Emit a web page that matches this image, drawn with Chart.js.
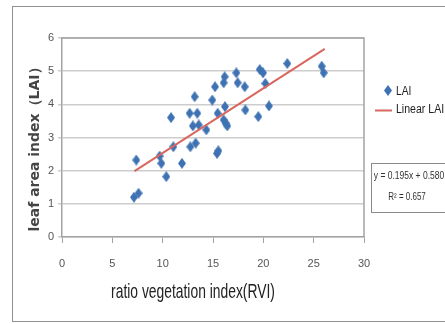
<!DOCTYPE html>
<html lang="en">
<head>
    <meta charset="UTF-8">
    <title>LAI vs RVI</title>
    <script src="https://cdn.jsdelivr.net/npm/chart.js"></script>
    <style>
        body { margin: 0; background: #fff; }
        canvas { display: block; }
    </style>
</head>
<body>
    <canvas id="lai-chart" width="445" height="324"></canvas>

    <script>
        // Field samples: ratio vegetation index (x) and measured leaf area index (y)
        const rvi = [7.15, 7.6, 7.38, 9.7, 9.87, 10.36, 10.83, 11.06, 11.92, 12.68,
                     12.75, 13.0, 13.18, 13.28, 13.44, 13.58, 14.34, 14.93, 15.2, 15.46,
                     15.4, 15.53, 16.06, 16.16, 16.19, 16.06, 16.26, 16.42, 17.32, 17.45,
                     18.15, 18.21, 19.5, 19.64, 19.97, 20.2, 20.56, 22.38, 25.8, 26.0];
        const lai = [1.2, 1.32, 2.32, 2.44, 2.22, 1.82, 3.6, 2.72, 2.22, 3.73,
                     2.72, 3.35, 4.23, 2.83, 3.73, 3.38, 3.23, 4.13, 4.53, 3.73,
                     2.52, 2.6, 4.65, 4.83, 3.93, 3.53, 3.43, 3.35, 4.95, 4.65,
                     4.53, 3.83, 3.63, 5.05, 4.95, 4.63, 3.95, 5.23, 5.15, 4.95];

        // Linear fit as printed on the chart
        const slope = 0.195;
        const intercept = 0.580;
        const rSquared = 0.657;
        const trendRange = [7.2, 26.1];

        const xMax = 30, xStep = 5;
        const yMax = 6, yStep = 1;
        const xTitle = 'ratio vegetation index(RVI)';
        const yTitle = 'leaf area index（LAI）';

        const sans = '"Liberation Sans", Arial, sans-serif';
        const blue = '#3f72b3';
        const red = '#d8675f';

        // slightly tall diamond, like the spreadsheet marker
        function makeDiamond(w, h, color) {
            const c = document.createElement('canvas');
            c.width = w; c.height = h;
            const g = c.getContext('2d');
            g.fillStyle = color;
            g.beginPath();
            g.moveTo(w / 2, 0);
            g.lineTo(w, h / 2);
            g.lineTo(w / 2, h);
            g.lineTo(0, h / 2);
            g.closePath();
            g.fill();
            return c;
        }
        const diamond = makeDiamond(8, 11, blue);

        // no narrow face installed, so squeeze the text horizontally
        function narrowText(ctx, text, x, y, sx) {
            ctx.save();
            ctx.translate(x, y);
            ctx.scale(sx, 1);
            ctx.fillText(text, 0, 0);
            ctx.restore();
        }

        const points = rvi.map((x, i) => ({ x: x, y: lai[i] }));
        const trend = trendRange.map(x => ({ x: x, y: slope * x + intercept }));

        const decorations = {
            id: 'decorations',
            beforeDraw(chart) {
                const ctx = chart.ctx;
                ctx.save();
                ctx.fillStyle = '#fff';
                ctx.fillRect(0, 0, chart.width, chart.height);
                ctx.strokeStyle = '#909090';
                ctx.lineWidth = 1;
                ctx.strokeRect(12.5, 6.5, chart.width, 315);
                ctx.restore();
            },
            afterDraw(chart) {
                const ctx = chart.ctx;
                const a = chart.chartArea;
                ctx.save();

                // top and right edges of the plot area
                ctx.strokeStyle = '#a3a3a3';
                ctx.lineWidth = 1.5;
                ctx.beginPath();
                ctx.moveTo(a.left, a.top);
                ctx.lineTo(a.right, a.top);
                ctx.lineTo(a.right, a.bottom);
                ctx.stroke();

                // axis titles
                ctx.fillStyle = '#222';
                ctx.font = '21px ' + sans;
                ctx.textAlign = 'center';
                ctx.textBaseline = 'middle';
                narrowText(ctx, xTitle, a.left + 131, 292, 0.66);

                ctx.save();
                ctx.translate(35, 146);
                ctx.rotate(-Math.PI / 2);
                ctx.fillStyle = '#444';
                ctx.font = 'bold 14px "DejaVu Sans", sans-serif';
                ctx.fillText(yTitle, 0, 0);
                ctx.restore();

                // legend
                const ds = chart.data.datasets;
                ctx.font = '12px ' + sans;
                ctx.textAlign = 'left';
                ctx.drawImage(diamond, 384, 85);
                narrowText(ctx, ds[0].label, 396, 92, 0.85);
                ctx.strokeStyle = ds[1].borderColor;
                ctx.lineWidth = 2;
                ctx.beginPath();
                ctx.moveTo(375, 110.5);
                ctx.lineTo(392, 110.5);
                ctx.stroke();
                narrowText(ctx, ds[1].label, 396, 110, 0.88);

                // fit equation box
                ctx.strokeStyle = '#8a8a8a';
                ctx.lineWidth = 1;
                ctx.strokeRect(371.5, 163.5, 90, 49);
                ctx.fillStyle = '#333';
                ctx.font = '10px ' + sans;
                ctx.textAlign = 'center';
                narrowText(ctx, 'y = ' + slope.toFixed(3) + 'x + ' + intercept.toFixed(3), 409, 176, 0.85);
                narrowText(ctx, 'R² = ' + rSquared.toFixed(3), 407, 197, 0.8);

                ctx.restore();
            }
        };

        new Chart(document.getElementById('lai-chart'), {
            type: 'scatter',
            data: {
                datasets: [
                    {
                        label: 'LAI',
                        data: points,
                        pointStyle: diamond,
                        pointRadius: 5,
                        backgroundColor: blue,
                        order: 1
                    },
                    {
                        label: 'Linear LAI',
                        type: 'line',
                        data: trend,
                        showLine: true,
                        borderColor: red,
                        borderWidth: 2,
                        pointRadius: 0,
                        order: 0
                    }
                ]
            },
            options: {
                responsive: false,
                animation: false,
                events: [],
                layout: { padding: { left: 14, top: 38, right: 81, bottom: 20 } },
                plugins: {
                    legend: { display: false },
                    tooltip: { enabled: false }
                },
                scales: {
                    x: {
                        type: 'linear',
                        min: 0,
                        max: xMax,
                        ticks: { stepSize: xStep, padding: 14, color: '#555', font: { family: sans, size: 11 } },
                        grid: { drawOnChartArea: false, tickLength: 6, color: '#a3a3a3', lineWidth: 1 },
                        border: { color: '#a3a3a3', width: 1.5 },
                        afterFit(scale) { scale.height = 67; }
                    },
                    y: {
                        min: 0,
                        max: yMax,
                        ticks: { stepSize: yStep, padding: 4, color: '#555', font: { family: sans, size: 11 } },
                        grid: { color: '#cdcdcd', lineWidth: 1.5, tickLength: 4 },
                        border: { color: '#a3a3a3', width: 1.5 },
                        afterFit(scale) { scale.width = 48; }
                    }
                }
            },
            plugins: [decorations]
        });
    </script>
</body>
</html>
